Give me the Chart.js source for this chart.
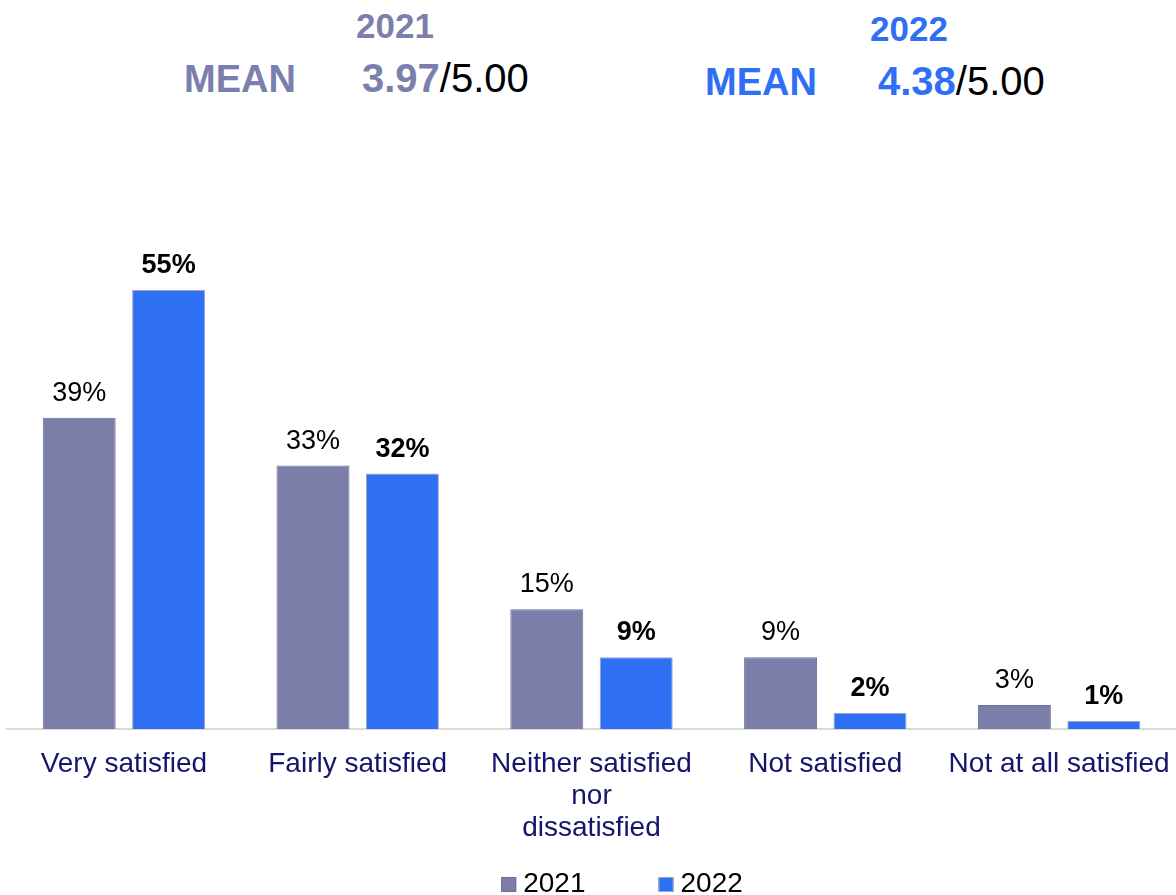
<!DOCTYPE html>
<html>
<head>
<meta charset="utf-8">
<script src="https://cdn.jsdelivr.net/npm/chart.js@4.4.0/dist/chart.umd.min.js"></script>
<style>
  html, body { margin: 0; padding: 0; background: #fff; }
  body { width: 1176px; height: 895px; position: relative; overflow: hidden; font-family: "Liberation Sans", Arial, sans-serif; }
  .t { position: absolute; white-space: nowrap; line-height: 1; }
  .y21 { color: #7b7fad; font-weight: bold; }
  .y22 { color: #2f6ff5; font-weight: bold; }
  .den { color: #000; font-weight: normal; }
  #wrap { position: absolute; left: 0; top: 0; width: 1176px; height: 895px; }
</style>
</head>
<body>
<div class="t y21" style="left:356px; top:8px; font-size:35px;">2021</div>
<div class="t y21" style="left:184px; top:60px; font-size:38px;">MEAN</div>
<div class="t" style="left:362px; top:58px; font-size:40px;"><span class="y21">3.97</span><span class="den">/5.00</span></div>

<div class="t y22" style="left:870px; top:11px; font-size:35px;">2022</div>
<div class="t y22" style="left:705px; top:63px; font-size:38px;">MEAN</div>
<div class="t" style="left:878px; top:61px; font-size:40px;"><span class="y22">4.38</span><span class="den">/5.00</span></div>

<div id="wrap"><canvas id="chart"></canvas></div>
<script>
// data
const categories = ['Very satisfied', 'Fairly satisfied', ['Neither satisfied', 'nor', 'dissatisfied'], 'Not satisfied', 'Not at all satisfied'];
const series2021 = [39, 33, 15, 9, 3];
const series2022 = [55, 32, 9, 2, 1];
const seriesNames = ['2021', '2022'];

// draw % labels above each bar
const barLabels = {
    id: 'barLabels',
    afterDatasetsDraw(chart) {
        const ctx = chart.ctx;
        ctx.save();
        ctx.textAlign = 'center';
        ctx.textBaseline = 'alphabetic';
        ctx.fillStyle = '#000';
        chart.data.datasets.forEach((ds, i) => {
            ctx.font = (i == 1 ? 'bold ' : '') + '27px "Liberation Sans", Arial, sans-serif';
            chart.getDatasetMeta(i).data.forEach((bar, j) => {
                ctx.fillText(ds.data[j] + '%', bar.x, bar.y - 17);
            });
        });
        ctx.restore();
    }
};

// simple legend at the bottom
const bottomLegend = {
    id: 'bottomLegend',
    afterDraw(chart) {
        const ctx = chart.ctx;
        ctx.save();
        ctx.font = '28px "Liberation Sans", Arial, sans-serif';
        ctx.textBaseline = 'alphabetic';
        const box = 15, gapText = 7, gapItem = 73;
        const widths = chart.data.datasets.map(ds => box + gapText + ctx.measureText(ds.label).width);
        const total = widths.reduce((a, b) => a + b, 0) + gapItem * (widths.length - 1);
        let x = 622 - total / 2;
        const base = 892;
        chart.data.datasets.forEach((ds, i) => {
            ctx.fillStyle = ds.backgroundColor;
            ctx.fillRect(x, base - 15, box, box);
            ctx.strokeStyle = ds.borderColor;
            ctx.lineWidth = 1;
            ctx.strokeRect(x + 0.5, base - 14.5, box - 1, box - 1);
            ctx.fillStyle = '#000';
            ctx.fillText(ds.label, x + box + gapText, base);
            x += widths[i] + gapItem;
        });
        ctx.restore();
    }
};

const ctx1 = document.getElementById('chart').getContext('2d');
const chart = new Chart(ctx1, {
    type: 'bar',
    data: {
        labels: categories,
        datasets: [{
            label: seriesNames[0],
            data: series2021,
            backgroundColor: '#7a7ea8',
            borderColor: '#6a6e98',
            borderWidth: 1,
            barPercentage: 0.816,
            categoryPercentage: 0.765
        }, {
            label: seriesNames[1],
            data: series2022,
            backgroundColor: '#2e6ff4',
            borderColor: '#9aa3cc',
            borderWidth: 1,
            barPercentage: 0.816,
            categoryPercentage: 0.765
        }]
    },
    options: {
        responsive: true,
        maintainAspectRatio: false,
        animation: false,
        layout: {
            padding: { left: 7, right: 0, top: 250, bottom: 32 }
        },
        plugins: {
            legend: { display: false },
            tooltip: { enabled: false }
        },
        scales: {
            x: {
                afterFit: (scale) => { scale.paddingLeft = 0; scale.paddingRight = 0; },
                grid: { display: false, drawTicks: false },
                border: { display: true, color: '#d9d9d9', width: 2 },
                ticks: {
                    color: '#14156b',
                    padding: 19,
                    maxRotation: 0,
                    autoSkip: false,
                    font: { family: '"Liberation Sans", Arial, sans-serif', size: 28, lineHeight: 1.143 }
                }
            },
            y: {
                display: false,
                min: 0,
                max: 60
            }
        }
    },
    plugins: [barLabels, bottomLegend]
});
</script>
</body>
</html>
